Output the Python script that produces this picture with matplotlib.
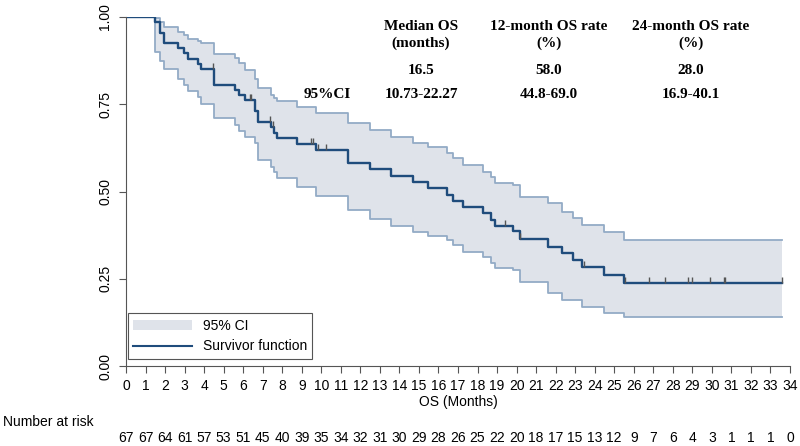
import numpy as np
import matplotlib.pyplot as plt
from matplotlib.patches import Patch
from matplotlib.lines import Line2D
import matplotlib.transforms as mtransforms

plt.rcParams['font.family'] = ['Liberation Sans', 'DejaVu Sans']

# Kaplan-Meier steps (months, survival, 95% CI)
times = [0, 1.48, 1.75, 1.95, 2.68, 2.99, 3.19, 3.67, 3.85, 4.50, 5.58, 5.79, 6.09,
         6.60, 6.77, 7.45, 7.60, 7.75, 8.77, 9.73, 11.38, 12.49, 13.57, 14.71, 15.48,
         16.42, 16.76, 17.27, 18.30, 18.67, 18.90, 19.80, 20.17, 21.62, 22.30, 22.90,
         23.33, 24.47, 25.50]
surv = [1.0, 0.985, 0.955, 0.925, 0.910, 0.896, 0.881, 0.866, 0.851, 0.806, 0.791, 0.776,
        0.761, 0.730, 0.699, 0.684, 0.668, 0.652, 0.637, 0.619, 0.583, 0.564, 0.545, 0.527,
        0.509, 0.491, 0.473, 0.455, 0.437, 0.418, 0.400, 0.386, 0.363, 0.342, 0.323, 0.304,
        0.283, 0.261, 0.239]
upper = [1.0, 0.997, 0.985, 0.972, 0.958, 0.948, 0.936, 0.932, 0.925, 0.894, 0.882, 0.867,
         0.848, 0.821, 0.796, 0.777, 0.768, 0.760, 0.743, 0.724, 0.695, 0.676, 0.657, 0.640,
         0.628, 0.609, 0.595, 0.576, 0.557, 0.542, 0.523, 0.520, 0.485, 0.466, 0.442, 0.423,
         0.404, 0.383, 0.361]
lower = [1.0, 0.900, 0.875, 0.850, 0.822, 0.805, 0.788, 0.770, 0.750, 0.710, 0.690, 0.673,
         0.657, 0.638, 0.590, 0.571, 0.555, 0.540, 0.514, 0.487, 0.447, 0.420, 0.400, 0.385,
         0.372, 0.361, 0.347, 0.328, 0.311, 0.294, 0.280, 0.276, 0.242, 0.208, 0.189, 0.189,
         0.170, 0.153, 0.139]
t_end = 33.6

censored = [4.47, 6.35, 6.40, 7.37, 7.52, 9.45, 9.55, 9.84, 10.24, 19.40, 20.17, 23.47,
            25.55, 26.80, 27.60, 28.80, 28.97, 29.90, 30.60, 30.65, 33.60]

at_risk = [67, 67, 64, 61, 57, 53, 51, 45, 40, 39, 35, 34, 32, 31, 30, 29, 28, 26, 25, 22,
           20, 18, 17, 15, 13, 12, 9, 7, 6, 4, 3, 1, 1, 1, 0]

table_cols = ['Median OS\n(months)', '12-month OS rate\n(%)', '24-month OS rate\n(%)']
table_est = ['16.5', '58.0', '28.0']
table_ci = ['10.73-22.27', '44.8-69.0', '16.9-40.1']

band_fill = '#dfe3ea'
band_line = '#93abc6'
km_color = '#1f4c7c'

fig = plt.figure(figsize=(8, 4.46), dpi=100)
ax = fig.add_axes([126 / 800, 80 / 446, 664 / 800, 349 / 446])

tx = np.array(times + [t_end])
s = np.array(surv + [surv[-1]])
up = np.array(upper + [upper[-1]])
lo = np.array(lower + [lower[-1]])

ax.fill_between(tx, lo, up, step='post', color=band_fill, lw=0)
ax.step(tx, up, where='post', color=band_line, lw=1.3)
ax.step(tx, lo, where='post', color=band_line, lw=1.3)
ax.step(tx, s, where='post', color=km_color, lw=1.7)

# censoring ticks
idx = np.searchsorted(tx, censored, side='right') - 1
cy = s[idx]
ax.vlines(censored, cy, cy + 0.017, color='#555555', lw=1)

ax.set_xlim(0, 34)
ax.set_ylim(0, 1)
ax.set_xticks(range(0, 35))
ax.set_yticks([0, 0.25, 0.5, 0.75, 1.0])
ax.set_yticklabels(['0.00', '0.25', '0.50', '0.75', '1.00'])
for sp in ['top', 'right']:
    ax.spines[sp].set_visible(False)
for sp in ['left', 'bottom']:
    ax.spines[sp].set_color('#555555')
ax.tick_params(axis='both', colors='#555555', labelcolor='black', labelsize=10, length=5)
ax.tick_params(axis='x', pad=4)
ax.tick_params(axis='y', labelrotation=90, pad=5)
for lab in ax.get_yticklabels():
    lab.set_va('center')
ax.set_xlabel('OS (Months)', fontsize=10, labelpad=2)

# legend
handles = [Patch(facecolor=band_fill, edgecolor='none'),
           Line2D([0], [0], color=km_color, lw=1.5)]
leg = ax.legend(handles, ['95% CI', 'Survivor function'], loc='lower left',
                bbox_to_anchor=(-0.008, 0.0), fontsize=10, fancybox=False,
                edgecolor='#555555', framealpha=1, handlelength=4.2, borderpad=0.4,
                labelspacing=0.5)
leg.get_frame().set_linewidth(0.8)

# number at risk
trans = mtransforms.blended_transform_factory(ax.transData, fig.transFigure)
fig.text(3 / 800, 1 - 422 / 446, 'Number at risk', fontsize=10, va='center', ha='left')
for i, n in enumerate(at_risk):
    ax.text(i, 1 - 438 / 446, str(n), transform=trans, fontsize=10, ha='center',
            va='center', clip_on=False)

# summary table
serif = dict(family=['Liberation Serif', 'DejaVu Serif'], fontweight='bold', fontsize=11)
col_x = [421, 549, 691]
for x, head, est, ci in zip(col_x, table_cols, table_est, table_ci):
    fig.text(x / 800, 1 - 35 / 446, head, ha='center', va='center', linespacing=1.25, **serif)
    fig.text(x / 800, 1 - 70 / 446, est, ha='center', va='center', **serif)
    fig.text(x / 800, 1 - 95 / 446, ci, ha='center', va='center', **serif)
fig.text(327 / 800, 1 - 95 / 446, '95%CI', ha='center', va='center', **serif)

fig.savefig('out.png', dpi=100)
